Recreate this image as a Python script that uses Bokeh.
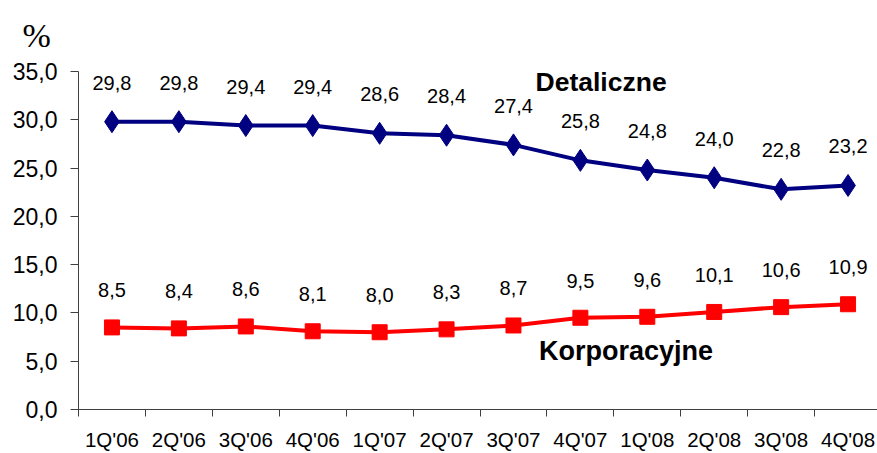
from bokeh.plotting import figure
from bokeh.models import Range1d, FixedTicker, Label, ColumnDataSource
from bokeh.embed import file_html
from bokeh.resources import INLINE
from bokeh.core.properties import value

quarters = ["1Q'06", "2Q'06", "3Q'06", "4Q'06", "1Q'07", "2Q'07",
            "3Q'07", "4Q'07", "1Q'08", "2Q'08", "3Q'08", "4Q'08"]
detaliczne = [29.8, 29.8, 29.4, 29.4, 28.6, 28.4, 27.4, 25.8, 24.8, 24.0, 22.8, 23.2]
korporacyjne = [8.5, 8.4, 8.6, 8.1, 8.0, 8.3, 8.7, 9.5, 9.6, 10.1, 10.6, 10.9]
y_ticks = [0, 5, 10, 15, 20, 25, 30, 35]

FONT = "Liberation Sans"


def fmt(v):
    return f"{v:.1f}".replace(".", ",")


xs = [i + 0.5 for i in range(len(quarters))]

p = figure(width=877, height=453, output_backend="svg", toolbar_location=None,
           x_range=Range1d(0, 11.94), y_range=Range1d(0, 35),
           min_border_left=78, min_border_right=0, min_border_top=70, min_border_bottom=41)
p.outline_line_color = None
p.grid.visible = False
p.background_fill_color = "white"

p.title.text = "%"
p.title.align = "left"
p.title.offset = -56
p.title.vertical_align = "top"
p.title.text_font = "Liberation Sans Narrow"
p.title.text_font_style = "normal"
p.title.text_font_size = "34px"
p.title.text_color = "black"
p.title.standoff = 32

# X axis: labels at centres, tick marks at category boundaries
p.xaxis.ticker = FixedTicker(ticks=xs, minor_ticks=list(range(len(quarters) + 1)))
p.xaxis.major_label_overrides = {x: q for x, q in zip(xs, quarters)}
p.xaxis.major_tick_line_color = None
p.xaxis.minor_tick_out = 7
p.xaxis.minor_tick_in = 0
p.xaxis.minor_tick_line_color = "#404040"
p.xaxis.axis_line_color = "#404040"
p.xaxis.major_label_text_font = FONT
p.xaxis.major_label_text_font_size = "20.5px"
p.xaxis.major_label_text_color = "black"
p.xaxis.major_label_standoff = 11

p.yaxis.ticker = FixedTicker(ticks=y_ticks, minor_ticks=[])
p.yaxis.major_label_overrides = {t: fmt(t) for t in y_ticks}
p.yaxis.major_tick_out = 8
p.yaxis.major_tick_in = 0
p.yaxis.major_tick_line_color = "#404040"
p.yaxis.axis_line_color = "#404040"
p.yaxis.major_label_text_font = FONT
p.yaxis.major_label_text_font_size = "23px"
p.yaxis.major_label_text_color = "black"
p.yaxis.major_label_standoff = 13

src_d = ColumnDataSource(dict(x=xs, y=detaliczne, lab=[fmt(v) for v in detaliczne]))
src_k = ColumnDataSource(dict(x=xs, y=korporacyjne, lab=[fmt(v) for v in korporacyjne]))

p.line("x", "y", source=src_d, line_color="#000080", line_width=4)
p.scatter("x", "y", source=src_d, marker="diamond", size=22,
          fill_color="#000080", line_color="#000080")
p.line("x", "y", source=src_k, line_color="#FF0000", line_width=4)
p.scatter("x", "y", source=src_k, marker="square", size=15,
          fill_color="#FF0000", line_color="#FF0000")

p.text("x", "y", text="lab", source=src_d, y_offset=-39, text_align="center",
       text_baseline="middle", text_font=value(FONT), text_font_size="20px", text_color="black")
p.text("x", "y", text="lab", source=src_k, y_offset=-37, text_align="center",
       text_baseline="middle", text_font=value(FONT), text_font_size="20px", text_color="black")

p.add_layout(Label(x=6.83, y=33.9, text="Detaliczne", text_baseline="middle",
                   text_font=FONT, text_font_style="bold", text_font_size="26.5px",
                   text_color="black"))
p.add_layout(Label(x=6.88, y=6.1, text="Korporacyjne", text_baseline="middle",
                   text_font=FONT, text_font_style="bold", text_font_size="27px",
                   text_color="black"))

open("out.html", "w").write(file_html(p, INLINE))
